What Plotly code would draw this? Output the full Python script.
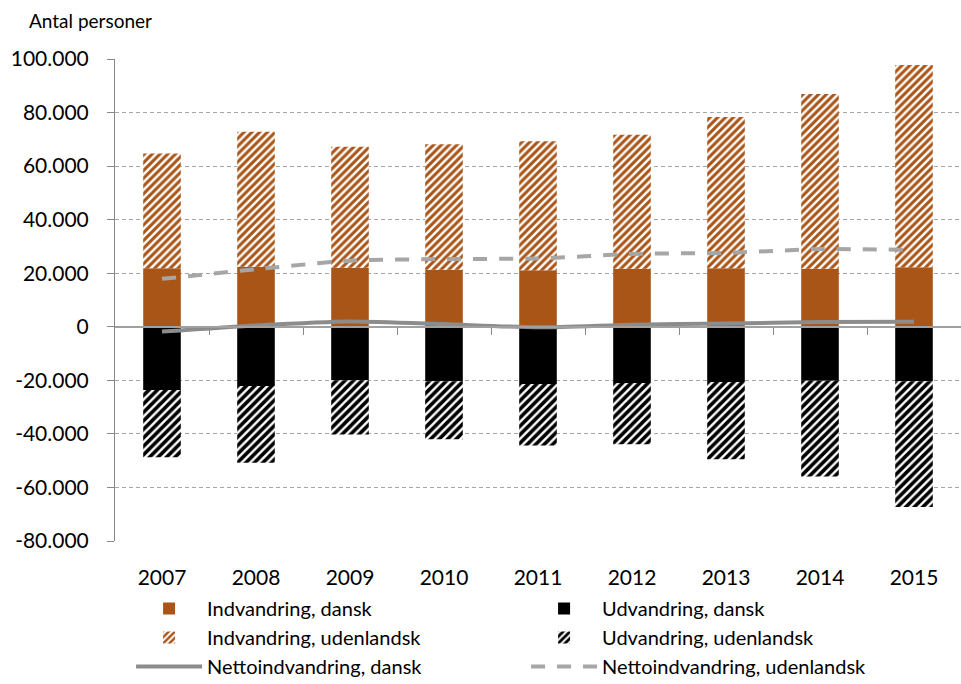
import plotly.graph_objects as go

years = [2007, 2008, 2009, 2010, 2011, 2012, 2013, 2014, 2015]
indv_dansk = [21900, 22400, 22000, 21300, 21100, 21700, 21900, 21700, 22200]
indv_udenl = [42800, 50400, 45200, 46900, 48200, 50000, 56400, 65200, 75600]
udv_dansk = [-23600, -22100, -20000, -20300, -21400, -21000, -20600, -20200, -20300]
udv_udenl = [-25100, -28700, -20200, -21700, -22900, -22900, -28900, -35700, -47000]
netto_dansk = [-1800, 500, 2000, 1000, -200, 800, 1200, 1800, 1900]
netto_udenl = [17900, 21500, 24700, 25300, 25500, 27200, 27600, 29000, 28700]

y_ticks = [-80000, -60000, -40000, -20000, 0, 20000, 40000, 60000, 80000, 100000]
y_ticktext = ["-80.000", "-60.000", "-40.000", "-20.000", "0",
              "20.000", "40.000", "60.000", "80.000", "100.000"]

ORANGE = "#AA5518"
BLACK = "#000000"
FONT = "Lato"

fig = go.Figure()
fig.add_trace(go.Bar(x=years, y=indv_dansk, name="Indvandring, dansk",
                     marker=dict(color=ORANGE, line=dict(width=0)), width=0.4))
fig.add_trace(go.Bar(x=years, y=udv_dansk, name="Udvandring, dansk",
                     marker=dict(color=BLACK, line=dict(width=0)), width=0.4))
fig.add_trace(go.Bar(x=years, y=indv_udenl, name="Indvandring, udenlandsk",
                     marker=dict(color="white", line=dict(width=0),
                                 pattern=dict(shape="/", fgcolor=ORANGE, bgcolor="white",
                                              size=5.5, solidity=0.55, fgopacity=1)),
                     width=0.4))
fig.add_trace(go.Bar(x=years, y=udv_udenl, name="Udvandring, udenlandsk",
                     marker=dict(color="white", line=dict(width=0),
                                 pattern=dict(shape="/", fgcolor=BLACK, bgcolor="white",
                                              size=6, solidity=0.6, fgopacity=1)),
                     width=0.4))
fig.add_trace(go.Scatter(x=years, y=netto_dansk, name="Nettoindvandring, dansk",
                         mode="lines", xaxis="x2",
                         line=dict(color="#8C8C8C", width=4, shape="spline", smoothing=0.6)))
fig.add_trace(go.Scatter(x=years, y=netto_udenl, name="Nettoindvandring, udenlandsk",
                         mode="lines", xaxis="x2",
                         line=dict(color="#A6A6A6", width=4, dash="14px,12px",
                                   shape="spline", smoothing=0.6)))

boundaries = [y + 0.5 for y in years[:-1]]
xrange = [years[0] - 0.5, years[-1] + 0.5]

fig.update_layout(
    width=961, height=684,
    margin=dict(l=115, r=0, t=59, b=143, autoexpand=False),
    paper_bgcolor="white", plot_bgcolor="white",
    barmode="relative",
    font=dict(family=FONT, size=20, color="#000000"),
    showlegend=True,
    legend=dict(orientation="h", x=0.019, xanchor="left", y=-0.0996, yanchor="top",
                entrywidth=314, entrywidthmode="pixels", itemwidth=66,
                font=dict(family=FONT, size=20), traceorder="normal",
                bgcolor="rgba(0,0,0,0)", tracegroupgap=0),
    xaxis=dict(range=xrange, tickvals=years, ticktext=[str(y) for y in years],
               showgrid=False, zeroline=False, showline=False, ticks="",
               ticklabelstandoff=22, tickfont=dict(family=FONT, size=21)),
    xaxis2=dict(range=xrange, overlaying="x", anchor="free", position=80000 / 180000,
                side="bottom", tickvals=boundaries, showticklabels=False,
                ticks="outside", ticklen=7, tickcolor="#888888", tickwidth=1.2,
                showgrid=False, zeroline=False,
                showline=True, linecolor="#A0A0A0", linewidth=1.5),
    yaxis=dict(range=[-80000, 100000], tickvals=y_ticks, ticktext=y_ticktext,
               showgrid=True, gridcolor="#A6A6A6", gridwidth=1, griddash="4px,3px",
               zeroline=False,
               showline=True, linecolor="#888888", linewidth=1,
               ticks="outside", ticklen=7, tickcolor="#888888",
               ticklabelstandoff=14, tickfont=dict(family=FONT, size=21)),
    annotations=[dict(text="Antal personer", xref="paper", yref="paper",
                      x=(27 - 115) / 846, y=1 + (59 - 20) / 482,
                      xanchor="left", yanchor="middle", showarrow=False,
                      font=dict(family=FONT, size=19))],
)

fig.write_html("out.html", post_script="document.body.style.margin='0';",
               config={"displayModeBar": False})
